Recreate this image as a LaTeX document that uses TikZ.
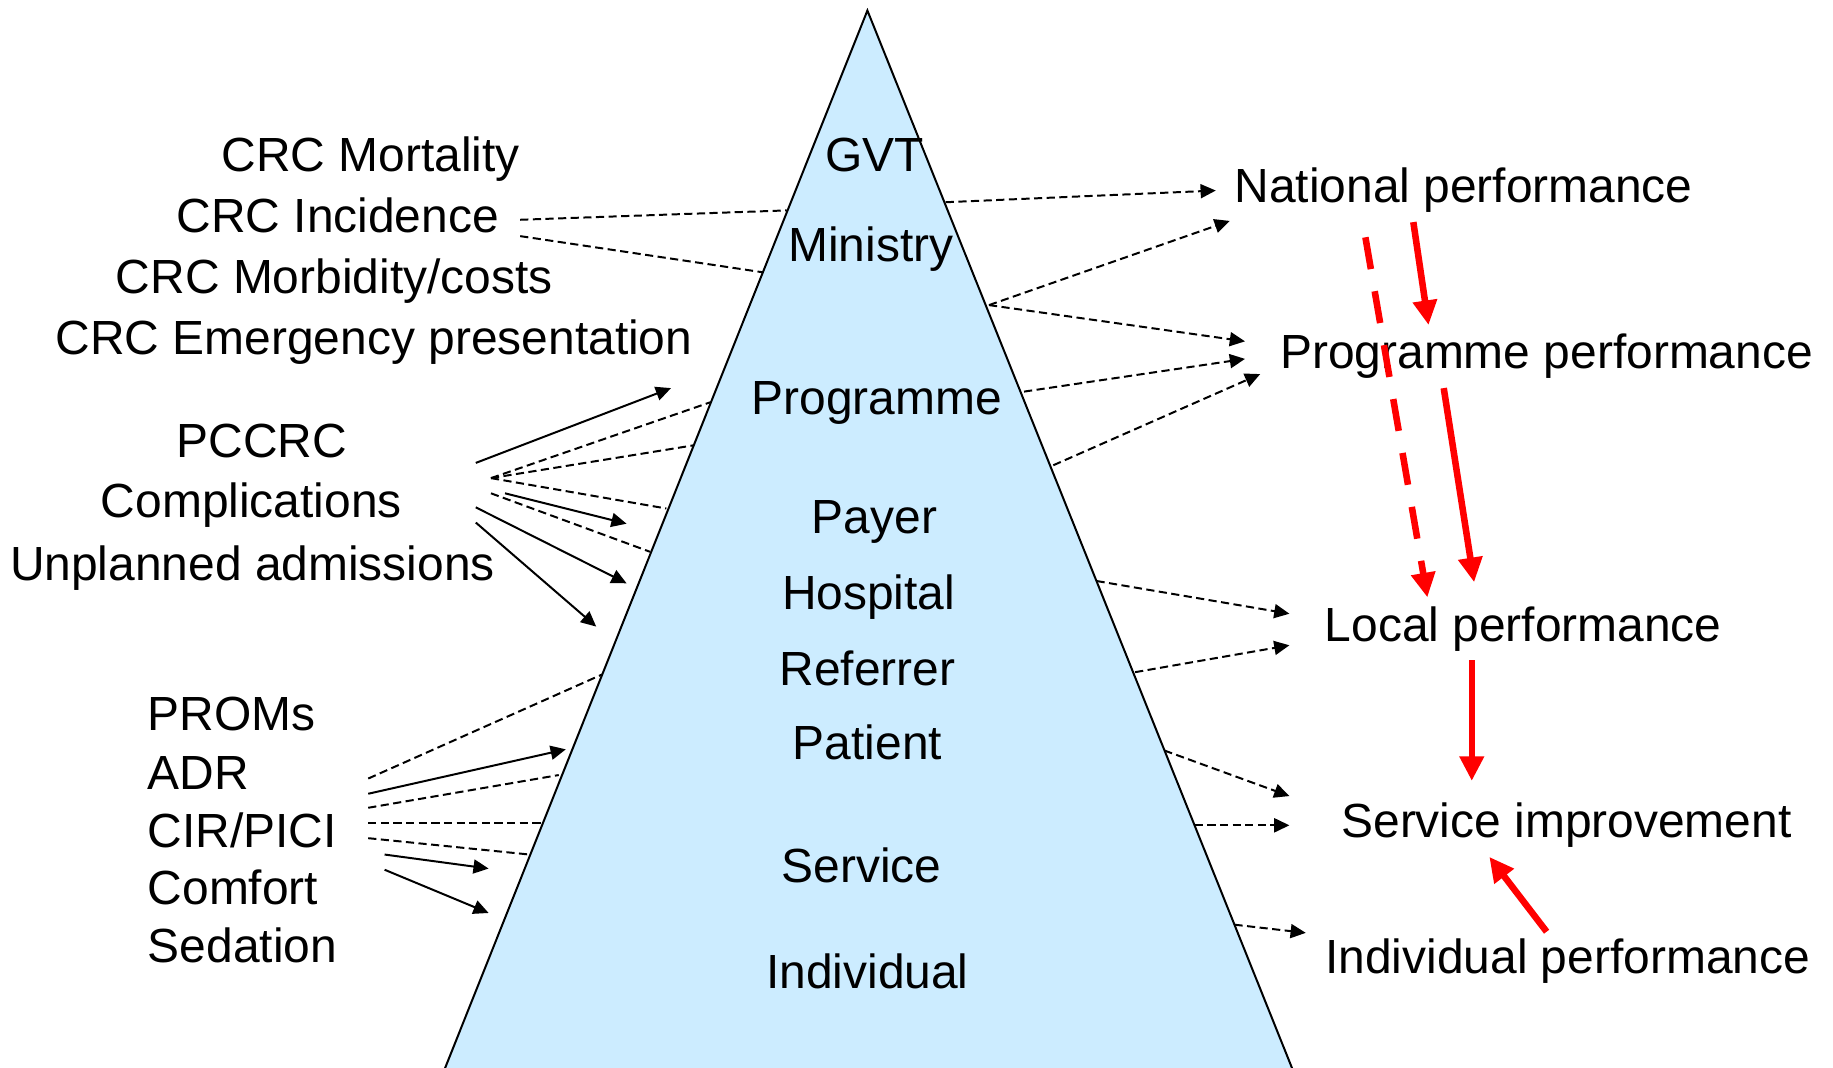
\documentclass[tikz,border=0pt]{standalone}
\usepackage{fontspec}
\setmainfont{Liberation Sans}
\usetikzlibrary{arrows.meta}
\definecolor{tri}{RGB}{204,236,255}
\begin{document}
\begin{tikzpicture}[x=0.5pt,y=-0.5pt,
 lbl/.style={inner sep=0pt, anchor=base, font=\fontsize{20.5}{24}\selectfont},
 lbll/.style={lbl, anchor=base west},
 dsh/.style={line width=0.85pt, dash pattern=on 3.5pt off 1.9pt},
 dsharr/.style={dsh, -{Triangle[length=6.5pt,width=6pt]}},
 sol/.style={line width=0.85pt, -{Triangle[length=6.5pt,width=6pt]}},
 redarr/.style={draw=red, line width=2.8pt, -{Triangle[length=10.5pt,width=10pt]}},
 reddash/.style={redarr, dash pattern=on 13.8pt off 9.6pt},
]
\useasboundingbox (0,0) rectangle (1568,913);
\clip (0,0) rectangle (1568,913);
\fill[white] (0,0) rectangle (1568,913);

% pyramid (extends below the frame)
\coordinate (apex) at (742,9);
\coordinate (bl) at (373.0,933);
\coordinate (br) at (1113.0,933);
\fill[tri] (apex) -- (bl) -- (br) -- cycle;
\draw[line width=0.85pt] (bl) -- (apex) -- (br);

% pyramid labels
\node[lbl] (gvt) at (748,147) {GVT};
\node[lbl] (min) at (745,224) {Ministry};
\node[lbl] (prog) at (750,355) {Programme};
\node[lbl] (pay) at (748,456) {Payer};
\node[lbl] (hosp) at (743,521) {Hospital};
\node[lbl] (ref) at (742,586) {Referrer};
\node[lbl] (pat) at (742,650) {Patient};
\node[lbl] (serv) at (737,755) {Service};
\node[lbl] (ind) at (742,846) {Individual};

% left labels
\node[lbl] (mort) at (317,147) {CRC Mortality};
\node[lbl] (inc) at (289,199) {CRC Incidence};
\node[lbl] (morb) at (286,251) {CRC Morbidity/costs};
\node[lbl] (emer) at (320,303) {CRC Emergency presentation};
\node[lbl] (pccrc) at (224,391) {PCCRC};
\node[lbl] (comp) at (215,443) {Complications};
\node[lbl] (unpl) at (216,497) {Unplanned admissions};
\node[lbll] (proms) at (126,625) {PROMs};
\node[lbll] (adr) at (126,675) {ADR};
\node[lbll] (cir) at (126,725) {CIR/PICI};
\node[lbll] (comf) at (126,774) {Comfort};
\node[lbll] (sed) at (126,823) {Sedation};

% right labels
\node[lbl] (natp) at (1252,173) {National performance};
\node[lbl] (progp) at (1323,315) {Programme performance};
\node[lbl] (locp) at (1303,549) {Local performance};
\node[lbl] (servi) at (1340,716) {Service improvement};
\node[lbl] (indp) at (1341,833) {Individual performance};

% coordinates
\coordinate (c1s) at (445,188); \coordinate (c1e) at (673,180);
\coordinate (c2s) at (445,202); \coordinate (c2e) at (653,233);
\coordinate (r1s) at (809,173); \coordinate (r1e) at (1040,163);
\coordinate (r2s) at (846,261); \coordinate (r2e) at (1052,189);
\coordinate (r3e) at (1065,292);
\coordinate (r4s) at (876,335); \coordinate (r4e) at (1065,307);
\coordinate (r5s) at (901,398); \coordinate (r5e) at (1078,320);
\coordinate (r6s) at (938,497); \coordinate (r6e) at (1103,525);
\coordinate (r7s) at (971,575); \coordinate (r7e) at (1103,552);
\coordinate (r8s) at (996,642); \coordinate (r8e) at (1103,681);
\coordinate (r9s) at (1022,706); \coordinate (r9e) at (1103,706);
\coordinate (r10s) at (1056,791); \coordinate (r10e) at (1117,798);

\coordinate (p1s) at (407,396); \coordinate (p1e) at (574,332);
\coordinate (pc) at (420,409);
\coordinate (pd1) at (608,344); \coordinate (pd2) at (593,381); \coordinate (pd3) at (570,435);
\coordinate (p2s) at (432,422); \coordinate (p2e) at (536,448);
\coordinate (p3s) at (420,422); \coordinate (pd4) at (556,472);
\coordinate (p4s) at (407,434); \coordinate (p4e) at (536,499);
\coordinate (p5s) at (407,447); \coordinate (p5e) at (510,536);

\coordinate (q1s) at (315,666); \coordinate (qd1) at (515,577);
\coordinate (q2s) at (315,679); \coordinate (q2e) at (484,641);
\coordinate (q3s) at (315,691); \coordinate (qd3) at (478,663);
\coordinate (q4s) at (315,704); \coordinate (qd4) at (464,704);
\coordinate (q5s) at (315,717); \coordinate (qd5) at (453,731);
\coordinate (q6s) at (329,731); \coordinate (q6e) at (418,743);
\coordinate (q7s) at (329,744); \coordinate (q7e) at (418,781);

\coordinate (n1s) at (1209,190); \coordinate (n1e) at (1222,278);
\coordinate (n2s) at (1168,203); \coordinate (n2e) at (1221,511);
\coordinate (n3s) at (1235,332); \coordinate (n3e) at (1261,498);
\coordinate (n4s) at (1259,565); \coordinate (n4e) at (1259,668);
\coordinate (n5s) at (1323,797); \coordinate (n5e) at (1274,733);

% left CRC dashed
\draw[dsh] (c1s) -- (c1e);
\draw[dsh] (c2s) -- (c2e);

% right dashed arrows
\draw[dsharr] (r1s) -- (r1e);
\draw[dsharr] (r2s) -- (r2e);
\draw[dsharr] (r2s) -- (r3e);
\draw[dsharr] (r4s) -- (r4e);
\draw[dsharr] (r5s) -- (r5e);
\draw[dsharr] (r6s) -- (r6e);
\draw[dsharr] (r7s) -- (r7e);
\draw[dsharr] (r8s) -- (r8e);
\draw[dsharr] (r9s) -- (r9e);
\draw[dsharr] (r10s) -- (r10e);

% PCCRC group
\draw[sol] (p1s) -- (p1e);
\draw[dsh] (pc) -- (pd1);
\draw[dsh] (pc) -- (pd2);
\draw[dsh] (pc) -- (pd3);
\draw[sol] (p2s) -- (p2e);
\draw[dsh] (p3s) -- (pd4);
\draw[sol] (p4s) -- (p4e);
\draw[sol] (p5s) -- (p5e);

% PROMs group
\draw[dsh] (q1s) -- (qd1);
\draw[sol] (q2s) -- (q2e);
\draw[dsh] (q3s) -- (qd3);
\draw[dsh] (q4s) -- (qd4);
\draw[dsh] (q5s) -- (qd5);
\draw[sol] (q6s) -- (q6e);
\draw[sol] (q7s) -- (q7e);

% red arrows
\draw[redarr] (n1s) -- (n1e);
\draw[reddash] (n2s) -- (n2e);
\draw[redarr] (n3s) -- (n3e);
\draw[redarr] (n4s) -- (n4e);
\draw[redarr] (n5s) -- (n5e);
\end{tikzpicture}
\end{document}
